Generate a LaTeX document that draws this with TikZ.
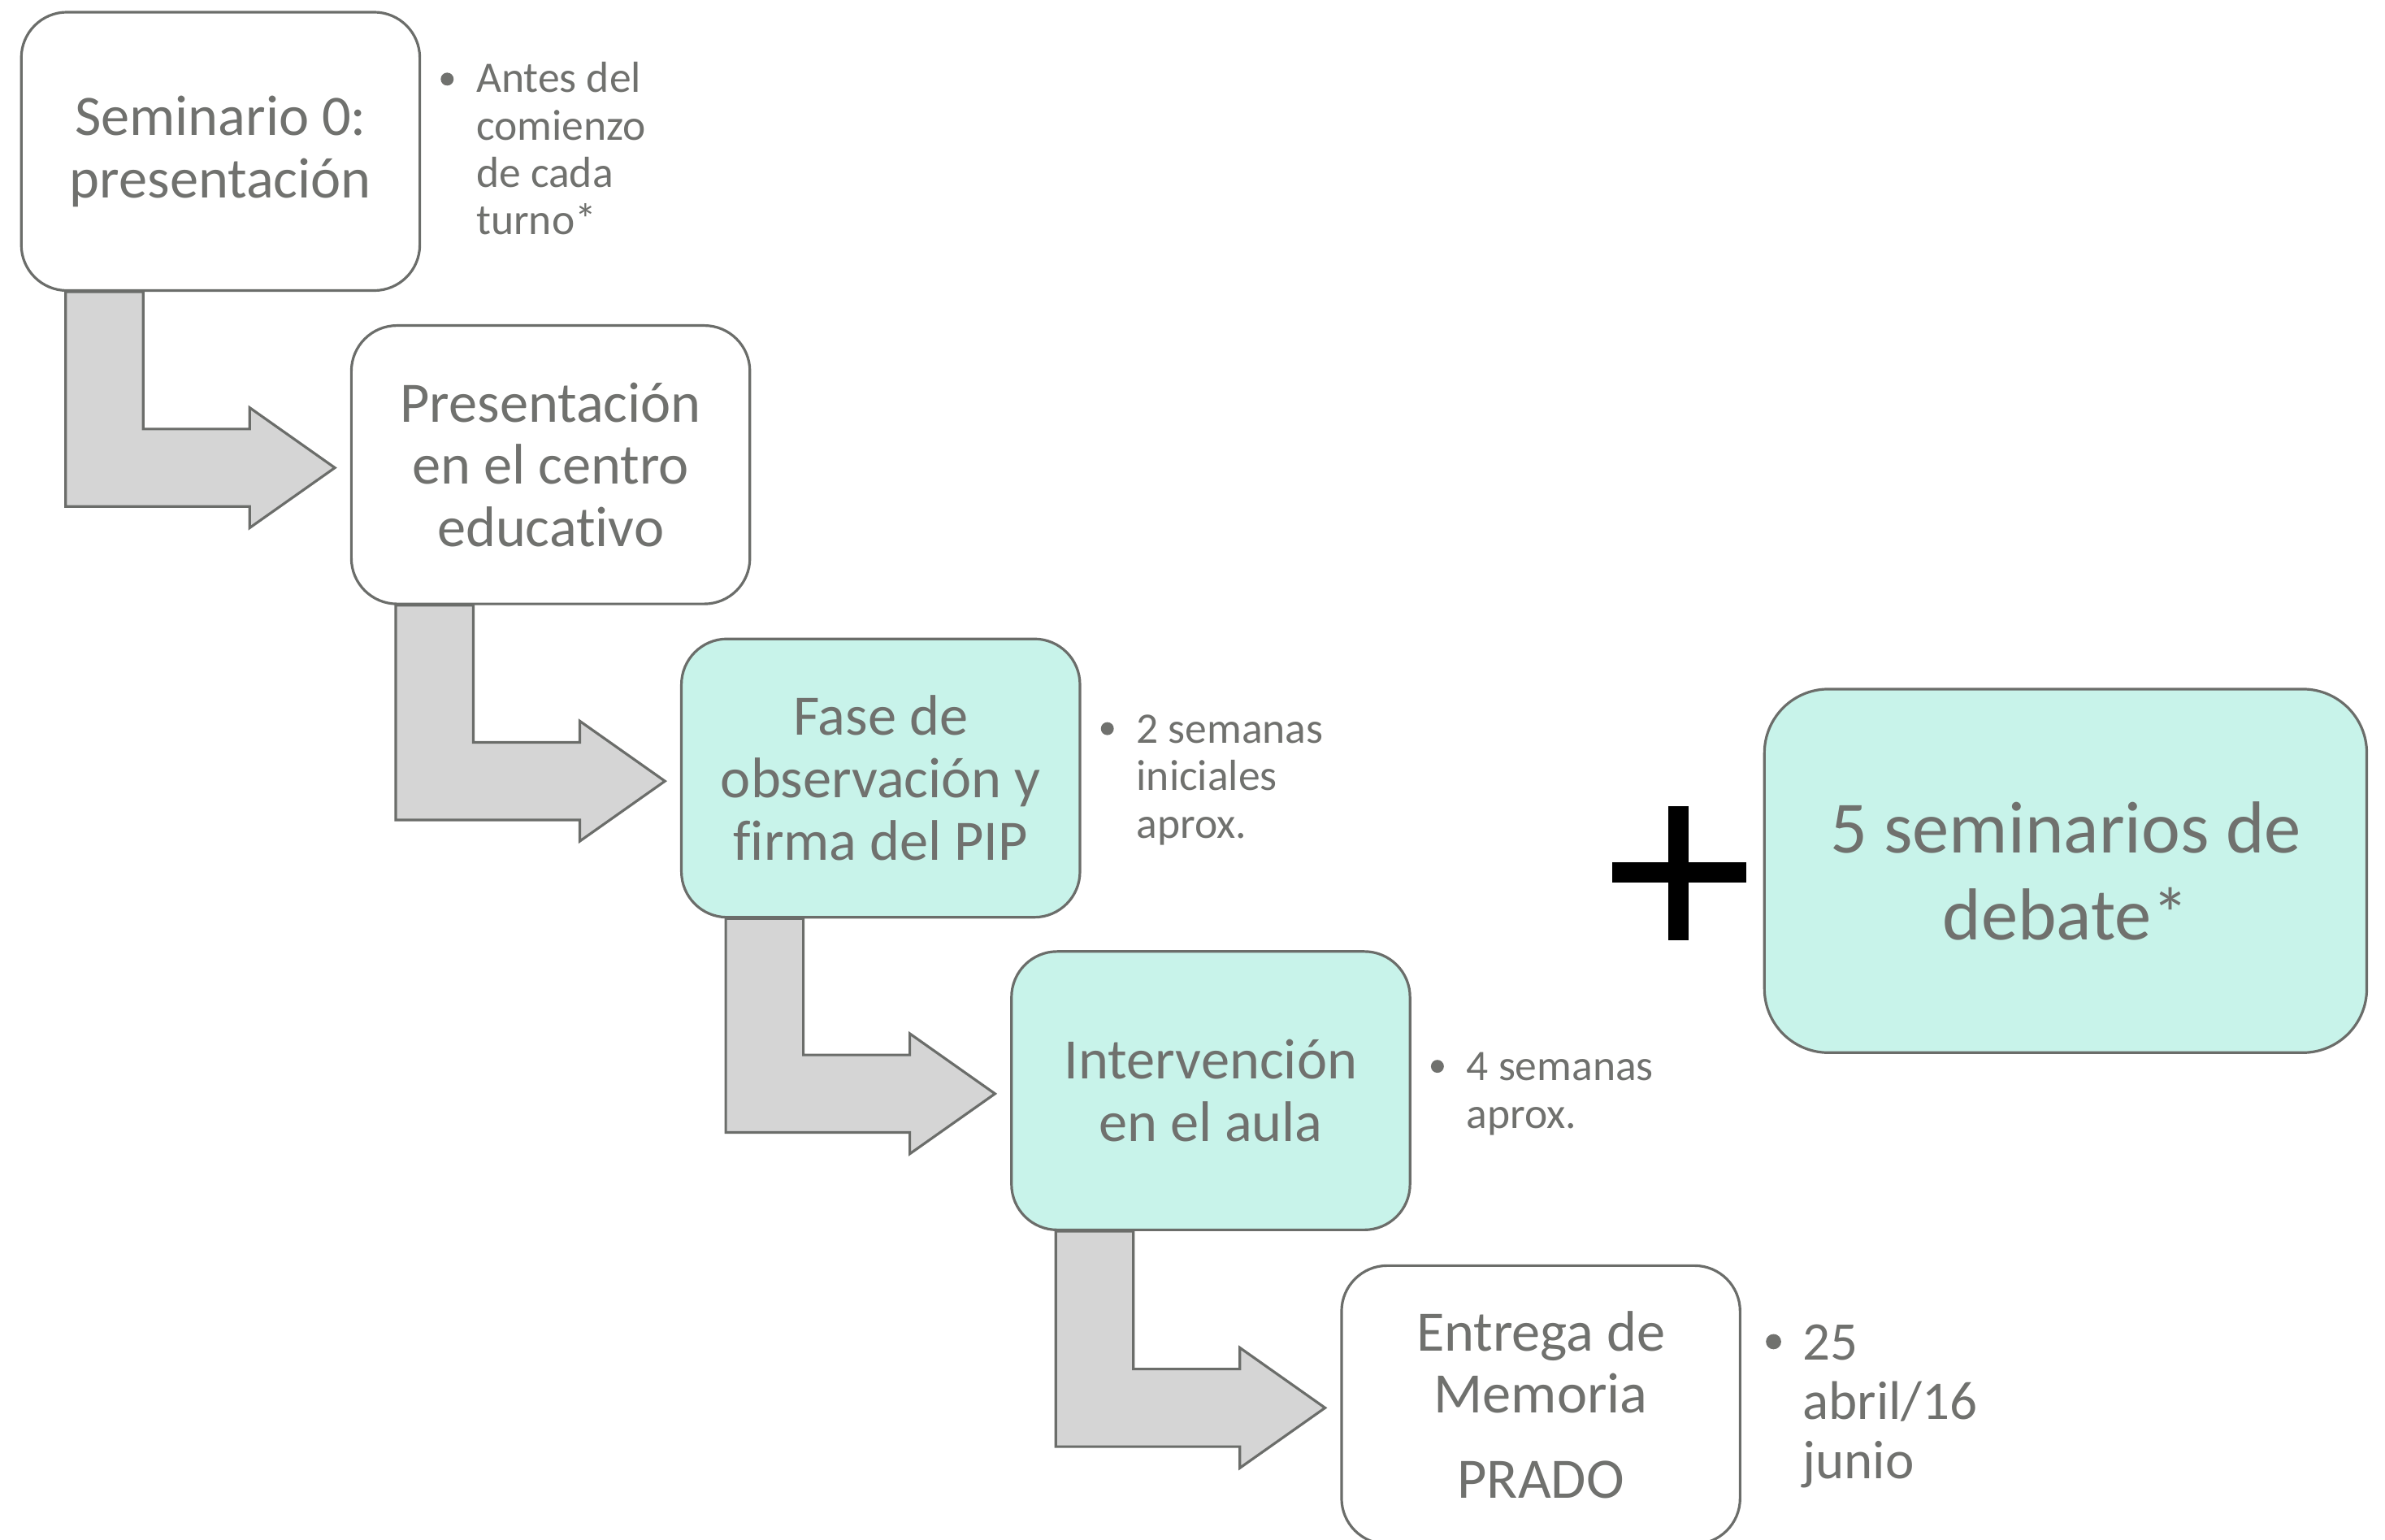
\documentclass[tikz,border=0pt]{standalone}
\usepackage{fontspec}
\setmainfont{Carlito}[Ligatures={NoCommon}]
\usetikzlibrary{calc}
\definecolor{txt}{RGB}{112,113,110}
\definecolor{edge}{RGB}{107,109,106}
\definecolor{tealfill}{RGB}{200,243,234}
\definecolor{arrfill}{RGB}{213,213,213}
\tikzset{
  box/.style={draw=edge, line width=1.7pt, rounded corners=30pt, minimum width=262pt, minimum height=183pt, inner sep=0pt, text=txt, align=center, font=\fontsize{37.6}{41}\selectfont, fill=white},
  tealbox/.style={box, fill=tealfill},
  bigarrow/.style={draw=edge, line width=1.7pt, fill=arrfill, line join=miter},
  note/.style={text=txt, align=left, anchor=base west, inner sep=0pt, font=\fontsize{28.6}{31.2}\selectfont},
  bignote/.style={note, font=\fontsize{35.8}{39}\selectfont},
  dot/.style={circle, fill=txt, inner sep=0pt, minimum size=8.5pt}
}
\begin{document}
\begin{tikzpicture}[x=1pt,y=-1pt]
\clip (0,0) rectangle (1568,1012);
\useasboundingbox (0,0) rectangle (1568,1012);
% boxes
\node[box] (b1) at (145,99.5) {Seminario 0:\\presentación};
\node[box] (b2) at (362,305.5) {Presentación\\en el centro\\educativo};
\node[tealbox] (b3) at (579,511.5) {Fase de\\observación y\\firma del PIP};
\node[tealbox] (b4) at (796,717) {Intervención\\en el aula};
\node[box] (b5) at (1013,923.5) {Entrega de\\Memoria\\[15pt]PRADO};
\node[tealbox, minimum width=396pt, minimum height=239pt, rounded corners=42pt, font=\fontsize{48.4}{57}\selectfont] (big) at (1358,572.5) {5 seminarios de\\debate*};
% bent block arrows
\foreach \a/\b in {b1/b2,b2/b3,b3/b4,b4/b5}{
  \draw[bigarrow] let \p1=(\a.south west), \p2=(\b.west) in
    (\x1+30pt,\y1) -- (\x1+81pt,\y1) -- (\x1+81pt,\y2-2pt+25.5pt) -- (\x2-66pt,\y2-2pt+25.5pt)
    -- (\x2-66pt,\y2-2pt+39.5pt) -- (\x2-10pt,\y2-2pt) -- (\x2-66pt,\y2-2pt-39.5pt)
    -- (\x2-66pt,\y2-2pt-25.5pt) -- (\x1+30pt,\y2-2pt-25.5pt) -- cycle;
}
% plus sign
\fill[black] (1060,567) rectangle (1148,580);
\fill[black] (1097,530) rectangle (1110,618);
% side notes (anchored at the baseline of their last line)
\node[dot] (d1) at (294,52) {};
\node[note] (n1) at (313,154.3) {Antes del\\comienzo\\de cada\\turno*};
\node[dot] (d2) at (728,479) {};
\node[note] (n2) at (747,551) {2 semanas\\iniciales\\aprox.};
\node[dot] (d3) at (945,701) {};
\node[note] (n3) at (964,741.7) {4 semanas\\aprox.};
\node[dot, minimum size=10pt] (d4) at (1166,882) {};
\node[bignote] (n4) at (1185,972) {25\\abril/16\\junio};
\end{tikzpicture}
\end{document}
